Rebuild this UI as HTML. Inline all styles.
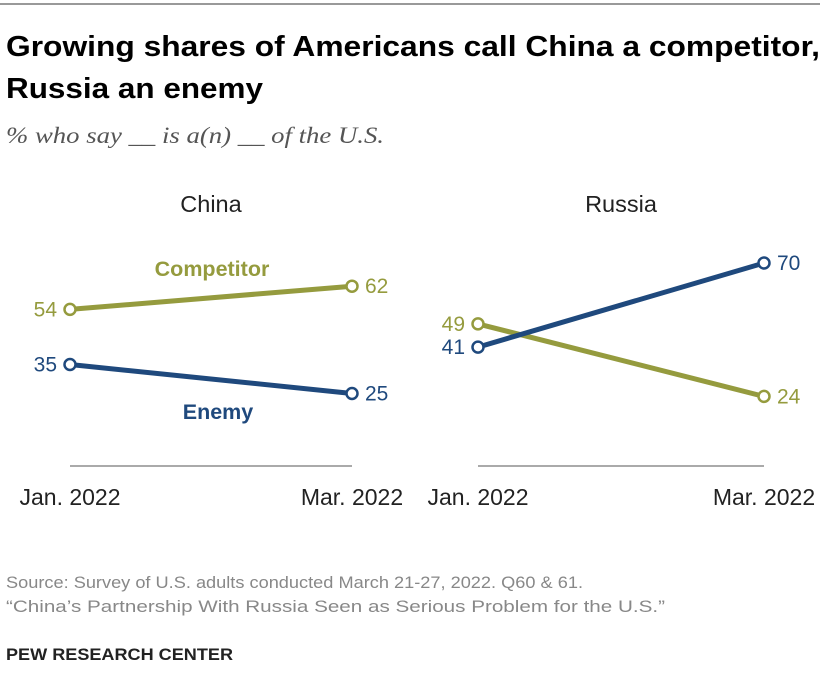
<!DOCTYPE html>
<html><head><meta charset="utf-8"><style>
body{margin:0;background:#fff;width:840px;height:700px;overflow:hidden}
svg{display:block}
text{font-family:"Liberation Sans",sans-serif}
</style></head><body>
<svg id="chart" width="840" height="700">
<line x1="0" y1="4" x2="820" y2="4" stroke="#333" stroke-width="1"/>
<text x="6" y="56" font-size="29" font-weight="bold" textLength="814" lengthAdjust="spacingAndGlyphs" style="font-family:'Liberation Sans Narrow','Liberation Sans',sans-serif">Growing shares of Americans call China a competitor,</text>
<text x="6" y="98" font-size="29" font-weight="bold" textLength="257" lengthAdjust="spacingAndGlyphs" style="font-family:'Liberation Sans Narrow','Liberation Sans',sans-serif">Russia an enemy</text>
<text x="6" y="143" font-size="23" font-style="italic" fill="#555" textLength="378" lengthAdjust="spacingAndGlyphs" style="font-family:'Liberation Serif',serif">% who say __ is a(n) __ of the U.S.</text>
<g id="marks"></g>
<text x="6" y="588" font-size="17" fill="#888" textLength="577" lengthAdjust="spacingAndGlyphs">Source: Survey of U.S. adults conducted March 21-27, 2022. Q60 &amp; 61.</text>
<text x="6" y="612" font-size="17" fill="#888" textLength="659" lengthAdjust="spacingAndGlyphs">“China’s Partnership With Russia Seen as Serious Problem for the U.S.”</text>
<text x="6" y="660" font-size="17" font-weight="bold" fill="#222" textLength="227" lengthAdjust="spacingAndGlyphs">PEW RESEARCH CENTER</text>
</svg>
<script>
const panels = ["China","Russia"];
const periods = ["Jan. 2022","Mar. 2022"];
const competitor = [[54,62],[49,24]];
const enemy = [[35,25],[41,70]];
const panelX = [[70,352],[478,764]];
const OLIVE="#959b3e", NAVY="#1f497d";
function y(v){return 466 - v*2.9;}
const NS="http://www.w3.org/2000/svg";
const g=document.getElementById('marks');
function el(t,a,txt){const e=document.createElementNS(NS,t);for(const k in a)e.setAttribute(k,a[k]);if(txt!=null)e.textContent=txt;g.appendChild(e);return e;}
panels.forEach((p,i)=>{
  const [x0,x1]=panelX[i];
  const t=el('text',{x:(x0+x1)/2,y:212,'font-size':23.5,fill:'#222','text-anchor':'middle'},p);
  
  
  const ax=el('line',{x1:x0,y1:466,x2:x1,y2:466,stroke:'#aaa','stroke-width':2});
  
  
  [x0,x1].forEach((x,j)=>{
    const lt=el('text',{x:x,y:505,'font-size':23,fill:'#222','text-anchor':'middle'},periods[j]);
    
    
  });
  [[competitor[i],OLIVE,'competitor'],[enemy[i],NAVY,'enemy']].forEach(([vals,c,nm])=>{
    const ln=el('line',{x1:x0,y1:y(vals[0]),x2:x1,y2:y(vals[1]),stroke:c,'stroke-width':5});
    
    
    [x0,x1].forEach((x,j)=>{
      const pt=el('circle',{cx:x,cy:y(vals[j]),r:5.5,fill:'#fff',stroke:c,'stroke-width':2.5});
      
      
      const lx = j===0 ? x-13 : x+13;
      const vl=el('text',{x:lx,y:y(vals[j])+7,'font-size':21,fill:c,'text-anchor':j===0?'end':'start'},vals[j]);
      
      
    });
  });
});
const c1=el('text',{x:212,y:276,'font-size':21.5,'font-weight':'bold',fill:OLIVE,'text-anchor':'middle'},'Competitor');


const e1=el('text',{x:218,y:419,'font-size':21.5,'font-weight':'bold',fill:NAVY,'text-anchor':'middle'},'Enemy');


</script>
</body></html>
